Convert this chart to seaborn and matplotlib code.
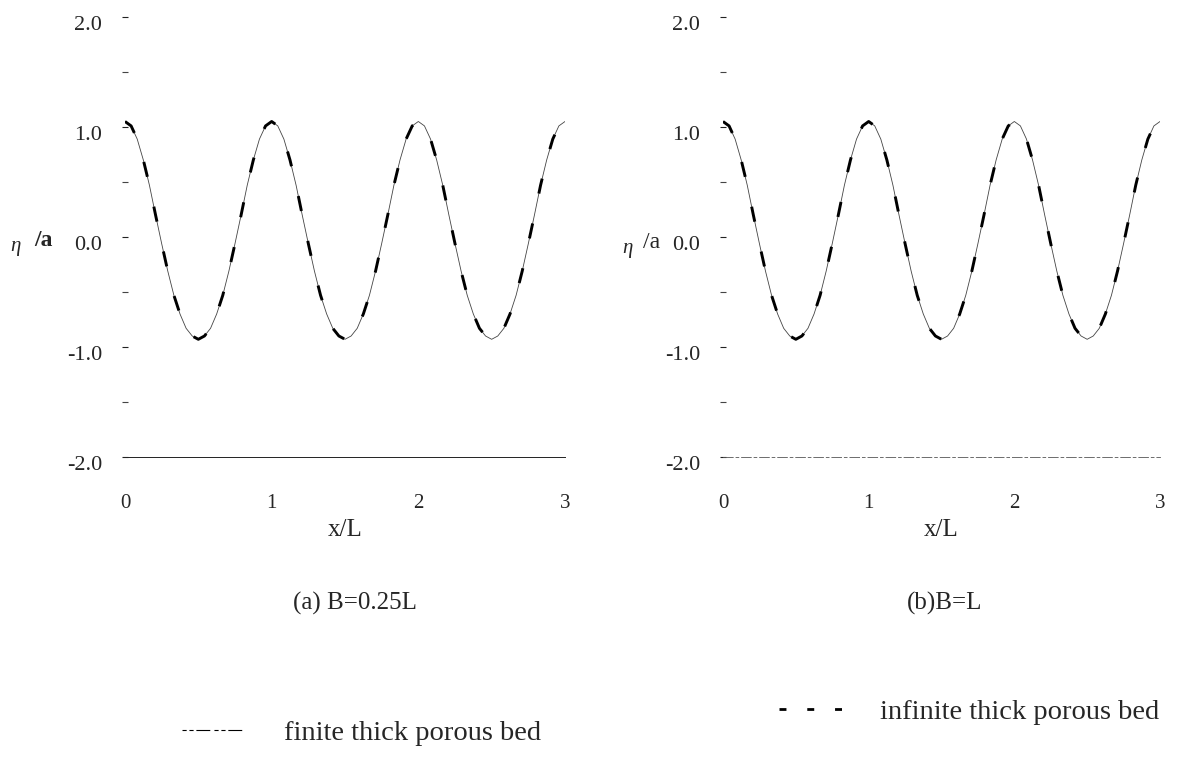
import numpy as np
import pandas as pd
import matplotlib
matplotlib.use("Agg")
import matplotlib.pyplot as plt
import matplotlib.transforms as mtrans
from matplotlib.lines import Line2D
from matplotlib.ticker import MultipleLocator, FixedLocator, FixedFormatter
import seaborn as sns

# Horizontal position along the bed, in wavelengths
x_over_L = np.linspace(0.0, 3.0, 73)

# Free-surface elevation eta/a, case (a) B = 0.25L
eta_finite_a = [
    1.05, 1.01, 0.89, 0.70, 0.47, 0.20, -0.06, -0.31, -0.53, -0.70, -0.83, -0.90,
    -0.93, -0.90, -0.83, -0.70, -0.53, -0.31, -0.06, 0.20, 0.47, 0.70, 0.89, 1.01,
    1.05, 1.01, 0.89, 0.70, 0.47, 0.20, -0.06, -0.31, -0.53, -0.70, -0.83, -0.90,
    -0.93, -0.90, -0.83, -0.70, -0.53, -0.31, -0.06, 0.20, 0.47, 0.70, 0.89, 1.01,
    1.05, 1.01, 0.89, 0.70, 0.47, 0.20, -0.06, -0.31, -0.53, -0.70, -0.83, -0.90,
    -0.93, -0.90, -0.83, -0.70, -0.53, -0.31, -0.06, 0.20, 0.47, 0.70, 0.89, 1.01,
    1.05,
]
eta_infinite_a = [
    1.05, 1.01, 0.89, 0.70, 0.47, 0.20, -0.06, -0.31, -0.53, -0.70, -0.83, -0.90,
    -0.93, -0.90, -0.83, -0.70, -0.53, -0.31, -0.06, 0.20, 0.47, 0.70, 0.89, 1.01,
    1.05, 1.01, 0.89, 0.70, 0.47, 0.20, -0.06, -0.31, -0.53, -0.70, -0.83, -0.90,
    -0.93, -0.90, -0.83, -0.70, -0.53, -0.31, -0.06, 0.20, 0.47, 0.70, 0.89, 1.01,
    1.05, 1.01, 0.89, 0.70, 0.47, 0.20, -0.06, -0.31, -0.53, -0.70, -0.83, -0.90,
    -0.93, -0.90, -0.83, -0.70, -0.53, -0.31, -0.06, 0.20, 0.47, 0.70, 0.89, 1.01,
    1.05,
]

# Free-surface elevation eta/a, case (b) B = L
eta_finite_b = [
    1.05, 1.01, 0.89, 0.70, 0.47, 0.20, -0.06, -0.31, -0.53, -0.70, -0.83, -0.90,
    -0.93, -0.90, -0.83, -0.70, -0.53, -0.31, -0.06, 0.20, 0.47, 0.70, 0.89, 1.01,
    1.05, 1.01, 0.89, 0.70, 0.47, 0.20, -0.06, -0.31, -0.53, -0.70, -0.83, -0.90,
    -0.93, -0.90, -0.83, -0.70, -0.53, -0.31, -0.06, 0.20, 0.47, 0.70, 0.89, 1.01,
    1.05, 1.01, 0.89, 0.70, 0.47, 0.20, -0.06, -0.31, -0.53, -0.70, -0.83, -0.90,
    -0.93, -0.90, -0.83, -0.70, -0.53, -0.31, -0.06, 0.20, 0.47, 0.70, 0.89, 1.01,
    1.05,
]
eta_infinite_b = [
    1.05, 1.01, 0.89, 0.70, 0.47, 0.20, -0.06, -0.31, -0.53, -0.70, -0.83, -0.90,
    -0.93, -0.90, -0.83, -0.70, -0.53, -0.31, -0.06, 0.20, 0.47, 0.70, 0.89, 1.01,
    1.05, 1.01, 0.89, 0.70, 0.47, 0.20, -0.06, -0.31, -0.53, -0.70, -0.83, -0.90,
    -0.93, -0.90, -0.83, -0.70, -0.53, -0.31, -0.06, 0.20, 0.47, 0.70, 0.89, 1.01,
    1.05, 1.01, 0.89, 0.70, 0.47, 0.20, -0.06, -0.31, -0.53, -0.70, -0.83, -0.90,
    -0.93, -0.90, -0.83, -0.70, -0.53, -0.31, -0.06, 0.20, 0.47, 0.70, 0.89, 1.01,
    1.05,
]

x_ticks = [0, 1, 2, 3]
x_tick_labels = ["0", "1", "2", "3"]
y_ticks = [-2.0, -1.0, 0.0, 1.0, 2.0]
y_tick_labels = ["-2.0", "-1.0", "0.0", "1.0", "2.0"]
panel_captions = ["(a) B=0.25L", "(b)B=L"]
series_labels = ["finite thick porous bed", "infinite thick porous bed"]

sns.set_theme(style="white")
plt.rcParams["font.family"] = ["Liberation Serif", "DejaVu Serif"]
plt.rcParams["axes.unicode_minus"] = False
plt.rcParams["lines.scale_dashes"] = False

W, H = 1179, 762
fig = plt.figure(figsize=(W / 100, H / 100), dpi=100)
fig.patch.set_facecolor("white")

ax_a = fig.add_axes([125 / W, 305 / H, 440 / W, 440 / H])
ax_b = fig.add_axes([723 / W, 305 / H, 437 / W, 440 / H])

panels = [
    (ax_a, eta_finite_a, eta_infinite_a),
    (ax_b, eta_finite_b, eta_infinite_b),
]

finite_style = dict(color="#444444", linewidth=0.6)
infinite_style = dict(color="black", linewidth=2.1, linestyle=(0, (11, 22)))

for ax, fin, inf in panels:
    df = pd.DataFrame({"x": x_over_L, "finite": fin, "infinite": inf})
    sns.lineplot(data=df, x="x", y="finite", ax=ax, legend=False, **finite_style)
    sns.lineplot(data=df, x="x", y="infinite", ax=ax, legend=False, **infinite_style)

    ax.set_xlim(0, 3)
    ax.set_ylim(-2, 2)
    ax.set_facecolor("white")
    for side in ["top", "right", "left"]:
        ax.spines[side].set_visible(False)
    ax.spines["bottom"].set_color("#222222")
    ax.spines["bottom"].set_linewidth(0.7)

    ax.xaxis.set_major_locator(FixedLocator(x_ticks))
    ax.xaxis.set_major_formatter(FixedFormatter(x_tick_labels))
    ax.yaxis.set_major_locator(FixedLocator(y_ticks))
    ax.yaxis.set_major_formatter(FixedFormatter(y_tick_labels))
    ax.yaxis.set_minor_locator(MultipleLocator(0.5))

    ax.tick_params(axis="x", which="both", bottom=False, length=0, pad=27, labelsize=15)
    ax.tick_params(axis="y", which="major", left=True, direction="inout",
                   length=5, width=0.8, color="#222222", pad=14, labelsize=16)
    ax.tick_params(axis="y", which="minor", left=True, direction="inout",
                   length=4, width=0.8, color="#444444")

    shift = mtrans.ScaledTranslation(0, -6 / 100, fig.dpi_scale_trans)
    for lab in ax.get_yticklabels():
        lab.set_transform(lab.get_transform() + shift)

    ax.set_xlabel("x/L", fontsize=18, labelpad=4)
    ax.set_ylabel("")
    ax.grid(False)

ax_b.spines["bottom"].set_linestyle((0, (7, 2, 2, 2)))
ax_b.spines["bottom"].set_color("#555555")
ax_b.spines["bottom"].set_linewidth(0.6)

# Vertical axis titles
fig.text(15 / W, 1 - 247 / H, "η", fontsize=15, style="italic", ha="center", va="center")
fig.text(43 / W, 1 - 241 / H, "/a", fontsize=17, fontweight="bold", ha="center", va="center")
fig.text(627 / W, 1 - 249 / H, "η", fontsize=15, style="italic", ha="center", va="center")
fig.text(652 / W, 1 - 243 / H, "/a", fontsize=17, ha="center", va="center")

# Panel captions
fig.text(355 / W, 1 - 603 / H, panel_captions[0], fontsize=18, ha="center", va="center")
fig.text(945 / W, 1 - 603 / H, panel_captions[1], fontsize=18, ha="center", va="center")

# Legends for the two bed models
fs_leg = 20.5
h_finite = Line2D([], [], color="black", linewidth=0.8, linestyle=(0, (3, 2, 3, 2, 10, 3)))
h_infinite = Line2D([], [], color="black", linewidth=2.0, linestyle=(0, (5, 15)))
fig.legend(handles=[h_finite], labels=[series_labels[0]], loc="center left",
           bbox_to_anchor=(182 / W, 1 - 733 / H), frameon=False, borderpad=0,
           borderaxespad=0, handlelength=44 / fs_leg, handletextpad=29.5 / fs_leg,
           fontsize=fs_leg)
fig.legend(handles=[h_infinite], labels=[series_labels[1]], loc="center left",
           bbox_to_anchor=(779 / W, 1 - 712 / H), frameon=False, borderpad=0,
           borderaxespad=0, handlelength=55 / fs_leg, handletextpad=18 / fs_leg,
           fontsize=fs_leg)

fig.savefig("out.png", dpi=100, facecolor="white")
